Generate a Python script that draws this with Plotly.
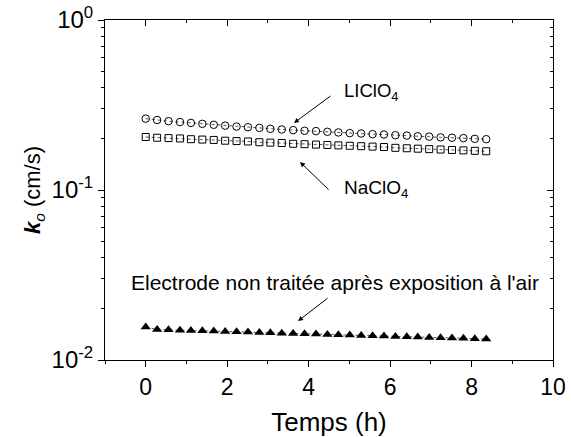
import math
import plotly.graph_objects as go

# Time (h)
temps = [0.00, 0.28, 0.56, 0.84, 1.11, 1.39, 1.67, 1.95, 2.23, 2.51, 2.79,
         3.06, 3.34, 3.62, 3.90, 4.18, 4.46, 4.73, 5.01, 5.29, 5.57, 5.85,
         6.13, 6.41, 6.68, 6.96, 7.24, 7.52, 7.80, 8.08, 8.36]

# k0 (cm/s)
k_liclo4 = [0.263, 0.258, 0.254, 0.251, 0.248, 0.245, 0.242, 0.239, 0.236, 0.234,
            0.232, 0.229, 0.227, 0.225, 0.223, 0.222, 0.220, 0.218, 0.216, 0.215,
            0.213, 0.212, 0.210, 0.209, 0.207, 0.206, 0.204, 0.203, 0.202, 0.200, 0.199]

k_naclo4 = [0.205, 0.203, 0.202, 0.201, 0.199, 0.198, 0.197, 0.195, 0.194, 0.193,
            0.191, 0.190, 0.189, 0.187, 0.186, 0.185, 0.184, 0.183, 0.182, 0.181,
            0.180, 0.179, 0.177, 0.176, 0.175, 0.174, 0.173, 0.172, 0.171, 0.170, 0.169]

k_non_traitee = [0.01563, 0.01511, 0.01505, 0.01497, 0.01491, 0.01485, 0.01479, 0.01471,
                 0.01465, 0.01459, 0.01453, 0.01445, 0.01439, 0.01434, 0.01426, 0.01420,
                 0.01414, 0.01408, 0.01401, 0.01395, 0.01389, 0.01384, 0.01376, 0.01371,
                 0.01365, 0.01358, 0.01352, 0.01347, 0.01341, 0.01334, 0.01329]

x_major = [0, 2, 4, 6, 8, 10]
x_minor = [-1, 1, 3, 5, 7, 9]
y_major = [0.01, 0.1, 1]
y_major_text = ["10<sup>-2</sup>", "10<sup>-1</sup>", "10<sup>0</sup>"]
y_minor = [0.02, 0.03, 0.04, 0.05, 0.06, 0.07, 0.08, 0.09,
           0.2, 0.3, 0.4, 0.5, 0.6, 0.7, 0.8, 0.9]

FONT = "Liberation Sans, Arial, sans-serif"
L = math.log10

fig = go.Figure()
line_style = dict(color="#555555", width=1, dash="dot")
fig.add_trace(go.Scatter(x=temps, y=k_liclo4, mode="lines+markers", line=line_style,
                         marker=dict(symbol="circle-open", size=7.5, color="black", line=dict(width=1))))
fig.add_trace(go.Scatter(x=temps, y=k_naclo4, mode="lines+markers", line=line_style,
                         marker=dict(symbol="square-open", size=7, color="black", line=dict(width=1))))
fig.add_trace(go.Scatter(x=temps, y=k_non_traitee, mode="lines+markers", line=line_style,
                         marker=dict(symbol="triangle-up", size=9, color="black")))

arrow = dict(text="", showarrow=True, arrowhead=2, arrowsize=1, arrowwidth=1,
             arrowcolor="black", xref="x", yref="y", axref="pixel", ayref="pixel")
annotations = [
    dict(x=3.64, y=L(0.248), ax=38, ay=-28, **arrow),
    dict(x=3.79, y=L(0.146), ax=30, ay=29, **arrow),
    dict(x=3.74, y=L(0.01695), ax=31, ay=-24, **arrow),
    dict(x=4.82, y=L(0.377), xref="x", yref="y", text="LIClO<sub>4</sub>", showarrow=False,
         xanchor="left", yanchor="middle", font=dict(family=FONT, size=18.5, color="black")),
    dict(x=4.82, y=L(0.1013), xref="x", yref="y", text="NaClO<sub>4</sub>", showarrow=False,
         xanchor="left", yanchor="middle", font=dict(family=FONT, size=19, color="black")),
    dict(x=4.65, y=L(0.02875), xref="x", yref="y",
         text="Electrode non traitée après exposition à l'air", showarrow=False,
         xanchor="center", yanchor="middle", font=dict(family=FONT, size=21, color="black")),
]

common = dict(showline=True, linecolor="black", linewidth=1, showgrid=False,
              zeroline=False, automargin=False, tickwidth=1, tickcolor="black")

fig.update_layout(
    template="none",
    width=571, height=437,
    margin=dict(l=105, r=18, t=20, b=77),
    paper_bgcolor="white", plot_bgcolor="white",
    showlegend=False,
    font=dict(family=FONT, color="black"),
    annotations=annotations,
    xaxis=dict(
        range=[-1, 10], tickmode="array", tickvals=x_major,
        ticks="outside", ticklen=6,
        tickfont=dict(family=FONT, size=23),
        minor=dict(tickmode="array", tickvals=x_minor, ticks="outside", ticklen=3,
                   tickwidth=1, tickcolor="black", showgrid=False),
        title=dict(text="Temps (h)", font=dict(family=FONT, size=26), standoff=16),
        **common,
    ),
    yaxis=dict(
        type="log", range=[-2, 0], tickmode="array", tickvals=y_major, ticktext=y_major_text,
        ticks="outside", ticklen=6,
        tickfont=dict(family=FONT, size=24),
        minor=dict(tickmode="array", tickvals=y_minor, ticks="outside", ticklen=3,
                   tickwidth=1, tickcolor="black", showgrid=False),
        title=dict(text="<b><i>k</i></b><sub><i>o</i></sub> (cm/s)",
                   font=dict(family=FONT, size=22), standoff=4),
        **common,
    ),
    xaxis2=dict(
        overlaying="x", side="top", range=[-1, 10], tickmode="array", tickvals=x_major,
        ticks="inside", ticklen=6, showticklabels=False,
        minor=dict(tickmode="array", tickvals=x_minor, ticks="inside", ticklen=3,
                   tickwidth=1, tickcolor="black", showgrid=False),
        **common,
    ),
    yaxis2=dict(
        overlaying="y", side="right", type="log", range=[-2, 0], tickmode="array",
        tickvals=y_major, ticks="inside", ticklen=6, showticklabels=False,
        minor=dict(tickmode="array", tickvals=y_minor, ticks="inside", ticklen=3,
                   tickwidth=1, tickcolor="black", showgrid=False),
        **common,
    ),
)
# invisible trace to activate secondary axes
fig.add_trace(go.Scatter(x=[temps[0]], y=[k_liclo4[0]], xaxis="x2", yaxis="y2",
                         mode="markers", marker=dict(opacity=0), hoverinfo="skip"))

fig.write_html("out.html",
               config={"displayModeBar": False},
               post_script="document.body.style.margin='0';document.body.style.padding='0';"
                           "document.body.style.overflow='hidden';")
